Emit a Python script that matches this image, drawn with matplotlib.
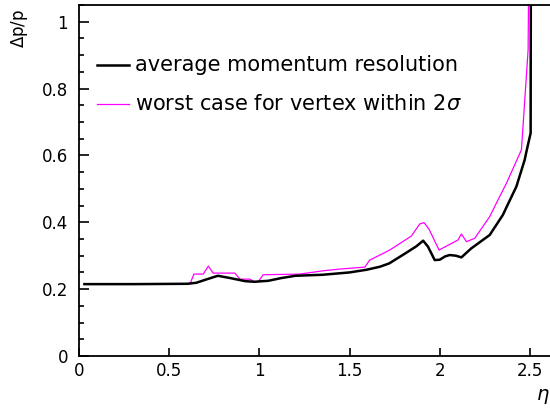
import matplotlib
matplotlib.use("Agg")
import matplotlib.pyplot as plt
from matplotlib.ticker import MultipleLocator, FormatStrFormatter
import numpy as np

# average momentum resolution (black)
eta_avg = [0.03, 0.3, 0.6, 0.65, 0.70, 0.77, 0.84, 0.92, 0.97, 1.05, 1.12, 1.2, 1.35, 1.5, 1.594, 1.668,
           1.72, 1.815, 1.87, 1.908, 1.935, 1.972, 2.0, 2.03, 2.055, 2.09, 2.12, 2.175, 2.277, 2.35,
           2.37, 2.425, 2.471, 2.48, 2.504, 2.506]
res_avg = [0.215, 0.215, 0.216, 0.219, 0.228, 0.240, 0.233, 0.224, 0.222, 0.225, 0.233, 0.240, 0.243, 0.250, 0.258, 0.267,
           0.277, 0.309, 0.328, 0.345, 0.327, 0.287, 0.288, 0.298, 0.302, 0.300, 0.295, 0.322, 0.362, 0.422,
           0.445, 0.507, 0.587, 0.610, 0.667, 1.6]

# worst case for vertex within 2 sigma (magenta)
eta_worst = [0.03, 0.615, 0.637, 0.689, 0.717, 0.744, 0.864, 0.892, 0.947, 0.975, 0.993, 1.021, 1.224, 1.354,
             1.446, 1.585, 1.612, 1.668, 1.723, 1.843, 1.889, 1.913, 1.941, 1.996, 2.101, 2.12, 2.148,
             2.194, 2.277, 2.323, 2.37, 2.453, 2.49, 2.50]
res_worst = [0.215, 0.215, 0.245, 0.245, 0.269, 0.248, 0.248, 0.230, 0.230, 0.222, 0.222, 0.243, 0.245, 0.255,
             0.260, 0.266, 0.287, 0.302, 0.317, 0.359, 0.395, 0.399, 0.379, 0.317, 0.347, 0.365, 0.342,
             0.352, 0.417, 0.467, 0.517, 0.617, 0.916, 1.6]

labels = ["average momentum resolution", r"worst case for vertex within 2$\sigma$"]

plt.rcParams['font.family'] = ['DejaVu Sans']
plt.rcParams['mathtext.fontset'] = 'dejavusans'

fig = plt.figure(figsize=(5.5, 4.09), dpi=100)
W, H = 550, 409
ax = fig.add_axes([79 / W, (H - 356) / H, (566 - 79) / W, (356 - 5) / H])

ax.plot(eta_worst, res_worst, color='#ff00ff', lw=0.9, zorder=2)
ax.plot(eta_avg, res_avg, color='black', lw=1.8, zorder=3)

ax.set_xlim(0, 2.7)
ax.set_ylim(0, 1.05)

ax.xaxis.set_major_locator(MultipleLocator(0.5))
ax.yaxis.set_major_locator(MultipleLocator(0.2))
ax.yaxis.set_minor_locator(MultipleLocator(0.05))
ax.xaxis.set_major_formatter(FormatStrFormatter('%g'))
ax.yaxis.set_major_formatter(FormatStrFormatter('%g'))
ax.tick_params(axis='both', which='both', direction='in', top=False, right=False, labelsize=12, width=1.2)
ax.tick_params(axis='y', which='major', length=7, pad=8)
ax.tick_params(axis='y', which='minor', length=3.5)
ax.tick_params(axis='x', which='major', length=6.0, pad=4)
for s in ax.spines.values():
    s.set_linewidth(1.3)

# legend drawn manually
ax.plot([(97 - 79) / 487, (129 - 79) / 487], [(356 - 65) / 351] * 2,
        transform=ax.transAxes, color='black', lw=1.8)
ax.text((135 - 79) / 487, (356 - 65) / 351, labels[0], transform=ax.transAxes,
        fontsize=15, va='center', ha='left')
ax.plot([(97 - 79) / 487, (129 - 79) / 487], [(356 - 104) / 351] * 2,
        transform=ax.transAxes, color='#ff00ff', lw=0.9)
ax.text((135 - 79) / 487, (356 - 104) / 351, labels[1], transform=ax.transAxes,
        fontsize=15, va='center', ha='left')

fig.text(20 / W, 1 - 28 / H, r"$\Delta$p/p", rotation=90, ha='center', va='center', fontsize=12)
fig.text(536 / W, 1 - 396 / H, r"$\eta$", ha='left', va='center', fontsize=14)

fig.savefig("out.png", dpi=100)
